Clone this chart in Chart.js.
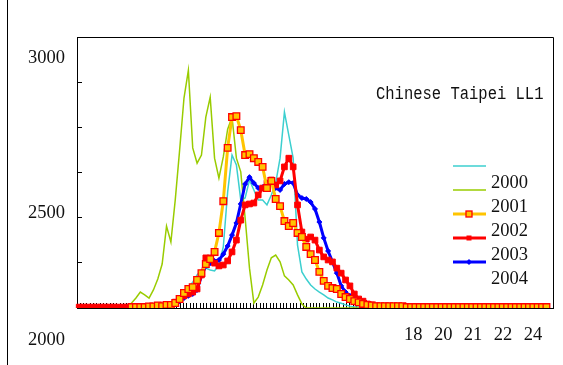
<!DOCTYPE html>
<html>
<head>
<meta charset="utf-8">
<script src="https://cdn.jsdelivr.net/npm/chart.js"></script>
<style>
  html, body { margin: 0; padding: 0; background: #fff; }
  #wrap { width: 563px; height: 365px; }
</style>
</head>
<body>
<div id="wrap"><canvas id="chart" width="563" height="365"></canvas></div>
<script>
// weekly points
const categories = [
  1, 2, 3, 4, 5, 6, 7, 8, 9, 10, 11, 12, 13, 14, 15, 16, 17, 18, 19, 20,
  21, 22, 23, 24, 25, 26, 27, 28, 29, 30, 31, 32, 33, 34, 35, 36, 37, 38, 39, 40,
  41, 42, 43, 44, 45, 46, 47, 48, 49, 50, 51, 52, 53, 54, 55, 56, 57, 58, 59, 60,
  61, 62, 63, 64, 65, 66, 67, 68, 69, 70, 71, 72, 73, 74, 75, 76, 77, 78, 79, 80,
  81, 82, 83, 84, 85, 86, 87, 88, 89, 90, 91, 92, 93, 94, 95, 96, 97, 98, 99, 100,
  101, 102, 103, 104, 105, 106, 107, 108, 109
];

const series2000 = [
  2200, 2200, 2200, 2200, 2200, 2200, 2200, 2200, 2200, 2200,
  2200, 2200, 2200, 2200, 2200, 2200, 2200, 2200, 2200, 2200,
  2200, 2207, 2216, 2229, 2245, 2261, 2280, 2303, 2319, 2325,
  2319, 2316, 2335, 2393, 2570, 2688, 2656, 2544, 2550, 2608,
  2576, 2544, 2544, 2528, 2560, 2598, 2678, 2826, 2752, 2678,
  2399, 2313, 2290, 2271, 2258, 2248, 2239, 2229, 2223, 2216,
  2212, 2207, 2203, 2200, 2200, 2200, 2200, 2200, 2200, 2200,
  2200, 2200, 2200, 2200, 2200, 2200, 2200, 2200, 2200, 2200,
  2200, 2200, 2200, 2200, 2200, 2200, 2200, 2200, 2200, 2200,
  2200, 2200, 2200, 2200, 2200, 2200, 2200, 2200, 2200, 2200,
  2200, 2200, 2200, 2200, 2200, 2200, 2200, 2200, null
];

const series2001 = [
  2197, 2197, 2197, 2197, 2197, 2197, 2197, 2197, 2197, 2197,
  2197, 2200, 2213, 2229, 2248, 2239, 2229, 2255, 2290, 2338,
  2460, 2409, 2544, 2704, 2871, 2960, 2711, 2662, 2688, 2810,
  2874, 2678, 2614, 2682, 2771, 2810, 2678, 2634, 2486, 2325,
  2213, 2232, 2271, 2319, 2358, 2367, 2345, 2300, 2287, 2271,
  2239, 2210, 2197, 2197, 2197, 2197, 2197, 2197, 2197, 2197,
  2197, 2197, 2197, 2197, 2197, 2197, 2197, 2197, 2197, 2197,
  2197, 2197, 2197, 2197, 2197, 2197, 2197, 2197, 2197, 2197,
  2197, 2197, 2197, 2197, 2197, 2197, 2197, 2197, 2197, 2197,
  2197, 2197, 2197, 2197, 2197, 2197, 2197, 2197, 2197, 2197,
  2197, 2197, 2197, 2197, 2197, 2197, 2197, 2197, null
];

const series2002 = [
  null, null, null, null, null, null, null, null, null, null,
  null, null, 2200, 2200, 2200, 2200, 2202, 2202, 2205, 2203,
  2207, 2207, 2213, 2226, 2245, 2258, 2264, 2287, 2309, 2338,
  2354, 2377, 2438, 2540, 2711, 2810, 2813, 2768, 2688, 2691,
  2678, 2666, 2650, 2582, 2605, 2547, 2524, 2476, 2460, 2470,
  2438, 2425, 2393, 2370, 2351, 2313, 2284, 2268, 2261, 2258,
  2242, 2232, 2226, 2219, 2215, 2210, 2207, 2205, 2203, 2203,
  2203, 2203, 2203, 2203, 2203, 2200, 2200, 2200, 2200, 2200,
  2200, 2200, 2200, 2200, 2200, 2200, 2200, 2200, 2200, 2200,
  2200, 2200, 2200, 2200, 2200, 2200, 2200, 2200, 2200, 2200,
  2200, 2200, 2200, 2200, 2200, 2200, 2200, 2200, null
];

const series2003 = [
  2200, 2200, 2200, 2200, 2200, 2200, 2200, 2200, 2200, 2200,
  2200, 2200, 2200, 2200, 2200, 2200, 2200, 2200, 2200, 2200,
  2200, 2203, 2216, 2226, 2236, 2242, 2248, 2258, 2303, 2358,
  2358, 2341, 2332, 2335, 2348, 2377, 2415, 2479, 2528, 2531,
  2534, 2560, 2582, 2598, 2608, 2592, 2605, 2650, 2678, 2650,
  2528, 2441, 2418, 2425, 2415, 2383, 2361, 2351, 2345, 2325,
  2309, 2287, 2268, 2242, 2226, 2219, 2210, 2207, 2203, 2200,
  2200, 2200, 2200, 2200, 2200, 2200, 2200, 2200, 2200, 2200,
  2200, 2200, 2200, 2200, 2200, 2200, 2200, 2200, 2200, 2200,
  2200, 2200, 2200, 2200, 2200, 2200, 2200, 2200, 2200, 2200,
  2200, 2200, 2200, 2200, 2200, 2200, 2200, 2200, null
];

const series2004 = [
  2200, 2200, 2200, 2200, 2200, 2200, 2200, 2200, 2200, 2200,
  2200, 2200, 2200, 2200, 2200, 2200, 2200, 2200, 2200, 2200,
  2200, 2203, 2210, 2219, 2229, 2236, 2242, 2255, 2300, 2332,
  2341, 2348, 2351, 2370, 2396, 2431, 2470, 2531, 2595, 2617,
  2598, 2582, 2585, 2598, 2608, 2582, 2576, 2595, 2601, 2598,
  2560, 2550, 2547, 2537, 2515, 2473, 2422, 2380, 2345, 2309,
  2268, 2248, 2236, 2226, 2219, 2210, 2207, 2203, 2200, 2200,
  2200, 2200, 2200, 2200, 2200, 2200, 2200, 2200, 2200, 2200,
  2200, 2200, 2200, 2200, 2200, 2200, 2200, 2200, 2200, 2200,
  2200, 2200, 2200, 2200, 2200, 2200, 2200, 2200, 2200, 2200,
  2200, 2200, 2200, 2200, 2200, 2200, 2200, 2200, null
];

const seriesLabels = ["2000", "2001", "2002", "2003", "2004"];
const yLabelTexts = ["3000", "2500", "2000"];
const yLabelValues = [3000, 2500, null];
const xTickValues = [101, 110, 119, 128, 137];
const xTickLabels = ["18", "20", "21", "22", "24"];
const chartTitle = "Chinese Taipei LL1";

const digitFont = '18.5px "Liberation Serif"';

function drawMarker(ctx, ds, x, y) {
  if (!ds.pointRadius) return;
  ctx.save();
  ctx.fillStyle = ds.pointBackgroundColor;
  ctx.strokeStyle = ds.pointBorderColor;
  ctx.lineWidth = ds.pointBorderWidth || 1;
  if (ds.pointStyle === "rectRot") {
    const r = 3;
    ctx.beginPath();
    ctx.moveTo(x, y - r);
    ctx.lineTo(x + r, y);
    ctx.lineTo(x, y + r);
    ctx.lineTo(x - r, y);
    ctx.closePath();
    ctx.fill();
  } else {
    const s = ds.legendMarker || 4;
    ctx.fillRect(x - s / 2, y - s / 2, s, s);
    ctx.strokeRect(x - s / 2, y - s / 2, s, s);
  }
  ctx.restore();
}

const decorPlugin = {
  id: "decor",
  beforeDraw(chart) {
    const ctx = chart.ctx;
    ctx.save();
    ctx.fillStyle = "#fff";
    ctx.fillRect(0, 0, chart.width, chart.height);
    ctx.restore();
  },
  beforeDatasetsDraw(chart) {
    const ctx = chart.ctx;
    const a = chart.chartArea;
    ctx.save();
    ctx.strokeStyle = "#000";
    ctx.lineWidth = 1;
    ctx.beginPath();
    // top and right sides of the plot frame
    ctx.moveTo(a.left, a.top + 0.5);
    ctx.lineTo(a.right + 0.5, a.top + 0.5);
    ctx.lineTo(a.right + 0.5, a.bottom + 0.5);
    // outer left rule
    ctx.moveTo(7.5, 0);
    ctx.lineTo(7.5, chart.height);
    ctx.stroke();
    ctx.restore();
  },
  afterDraw(chart) {
    const ctx = chart.ctx;
    const a = chart.chartArea;
    const yScale = chart.scales.y;
    ctx.save();
    ctx.fillStyle = "#111";

    // y labels (they sit off the tick marks in the original)
    ctx.font = digitFont;
    ctx.textAlign = "right";
    ctx.textBaseline = "middle";
    yLabelTexts.forEach((t, i) => {
      const v = yLabelValues[i];
      const y = v === null ? a.bottom + 32 : yScale.getPixelForValue(v);
      ctx.fillText(t, 65, y);
    });

    // title inside the plot
    ctx.save();
    ctx.translate(a.right - 177, a.top + 61.5);
    ctx.scale(0.816, 1);
    ctx.font = '19px "Liberation Mono"';
    ctx.textAlign = "left";
    ctx.textBaseline = "alphabetic";
    ctx.fillText(chartTitle, 0, 0);
    ctx.restore();

    // legend: line samples with their year printed a row lower
    const lx = a.right - 100;
    chart.data.datasets.forEach((ds, i) => {
      const y = a.top + 129 + i * 24;
      ctx.strokeStyle = ds.borderColor;
      ctx.lineWidth = ds.borderWidth;
      ctx.beginPath();
      ctx.moveTo(lx, y);
      ctx.lineTo(lx + 33, y);
      ctx.stroke();
      drawMarker(ctx, ds, lx + 16, y);
      ctx.fillStyle = "#111";
      ctx.font = digitFont;
      ctx.textAlign = "left";
      ctx.textBaseline = "middle";
      ctx.fillText(ds.label, lx + 38, y + 17);
    });
    ctx.restore();
  }
};

const datasets = [
  {
    label: seriesLabels[0], data: series2000, order: 4,
    borderColor: "#3CCFCF", borderWidth: 1.5, pointRadius: 0
  },
  {
    label: seriesLabels[1], data: series2001, order: 3,
    borderColor: "#99CC00", borderWidth: 1.5, pointRadius: 0
  },
  {
    label: seriesLabels[2], data: series2002, order: 0,
    borderColor: "#FFC400", borderWidth: 3,
    pointStyle: "rect", pointRadius: 4.7, pointBorderWidth: 1.3,
    pointBackgroundColor: "#FFC400", pointBorderColor: "#FF0000", legendMarker: 6
  },
  {
    label: seriesLabels[3], data: series2003, order: 1,
    borderColor: "#FF0000", borderWidth: 3,
    pointStyle: "rect", pointRadius: 4, pointBorderWidth: 1,
    pointBackgroundColor: "#FF0000", pointBorderColor: "#FF0000", legendMarker: 4
  },
  {
    label: seriesLabels[4], data: series2004, order: 2,
    borderColor: "#0000FF", borderWidth: 3,
    pointStyle: "rectRot", pointRadius: 2.5, pointBorderWidth: 1,
    pointBackgroundColor: "#0000FF", pointBorderColor: "#0000FF"
  }
];

new Chart(document.getElementById("chart"), {
  type: "line",
  data: { labels: categories, datasets: datasets },
  options: {
    responsive: false,
    devicePixelRatio: 1,
    animation: false,
    spanGaps: false,
    elements: { line: { tension: 0 } },
    layout: { padding: { left: 77, top: 37, right: 10, bottom: 0 } },
    plugins: { legend: { display: false }, tooltip: { enabled: false }, title: { display: false } },
    scales: {
      x: { type: "category", offset: true, display: false },
      xt: {
        type: "linear", axis: "x", position: "bottom",
        min: 0, max: 143,
        afterFit: (s) => {
          // fixed band under the plot, labels placed inside it
          s.height = 57;
          s.paddingLeft = 0;
          s.paddingRight = 0;
        },
        grid: { drawOnChartArea: false, tickLength: -5, color: "#000", lineWidth: 1 },
        border: { color: "#000", width: 1 },
        ticks: {
          stepSize: 1, autoSkip: false, maxRotation: 0, minRotation: 0,
          padding: 21, color: "#111",
          font: { family: "Liberation Serif", size: 18.5 },
          callback: (value) => {
            const k = xTickValues.indexOf(Math.round(value));
            return k >= 0 ? xTickLabels[k] : "";
          }
        }
      },
      y: {
        type: "linear", position: "left",
        min: 2197, max: 3067,
        afterFit: (s) => { s.width = 0; },
        grid: { drawOnChartArea: false, tickLength: -5, color: "#000", lineWidth: 1 },
        border: { color: "#000", width: 1 },
        ticks: { stepSize: 145, display: false }
      }
    }
  },
  plugins: [decorPlugin]
});
</script>
</body>
</html>
